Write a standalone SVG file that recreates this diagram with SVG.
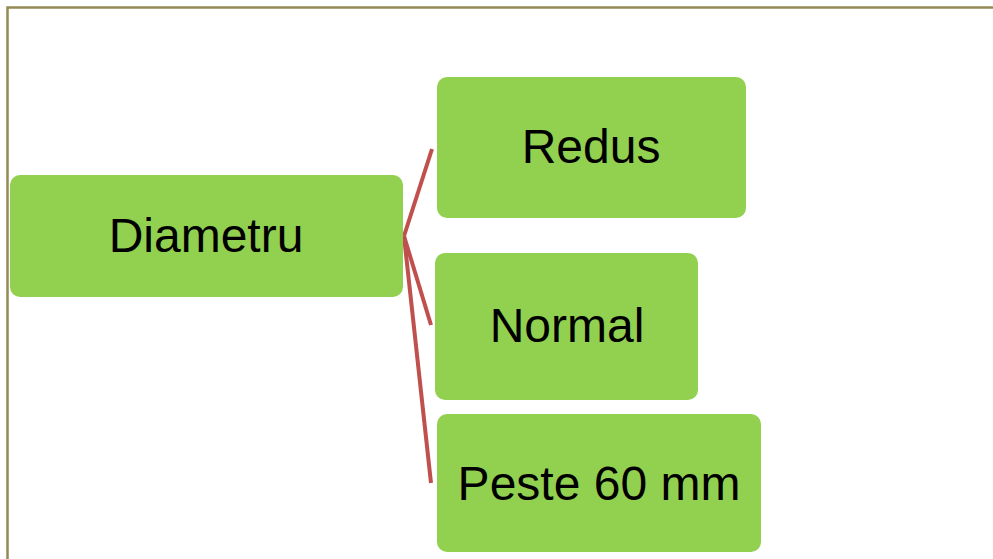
<svg xmlns="http://www.w3.org/2000/svg" width="993" height="559" viewBox="0 0 993 559">
<style>
.box{fill:#92d050;}
.lbl{font-family:"Liberation Sans",Arial,sans-serif;font-size:48px;fill:#000;text-anchor:middle;}
.conn{stroke:#c0504d;stroke-width:4;fill:none;stroke-linecap:butt;}
</style>
<rect x="0" y="0" width="993" height="559" fill="#fff"/>
<path d="M7.5,559 V7.5 H993" fill="none" stroke="#948a54" stroke-width="2.5"/>
<g id="connectors">
<line class="conn" x1="404" y1="236" x2="432" y2="149"/>
<line class="conn" x1="404" y1="236" x2="431" y2="325"/>
<line class="conn" x1="404" y1="236" x2="431" y2="483"/>
</g>
<g id="node-diametru">
<rect class="box" x="10" y="175" width="393" height="122" rx="10"/>
<text class="lbl" x="206" y="252">Diametru</text>
</g>
<g id="node-redus">
<rect class="box" x="437" y="77" width="309" height="141" rx="10"/>
<text class="lbl" x="591" y="163">Redus</text>
</g>
<g id="node-normal">
<rect class="box" x="435" y="253" width="263" height="147" rx="10"/>
<text class="lbl" x="567" y="342">Normal</text>
</g>
<g id="node-peste">
<rect class="box" x="437" y="414" width="324" height="138" rx="10"/>
<text class="lbl" x="599" y="500">Peste 60 mm</text>
</g>
</svg>
